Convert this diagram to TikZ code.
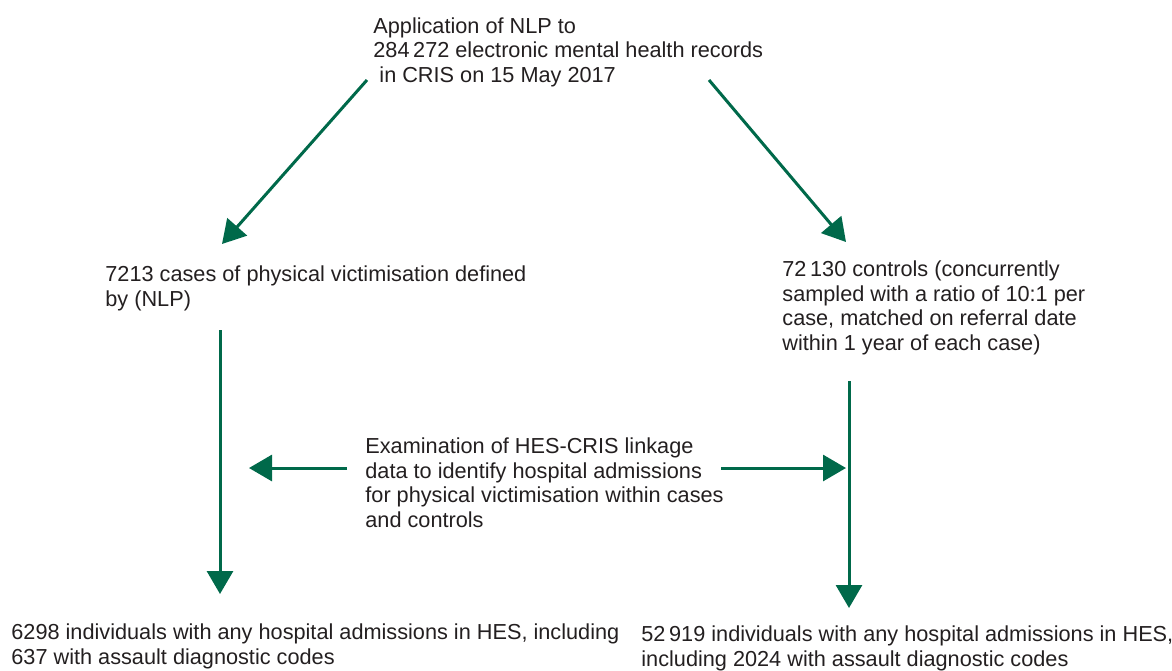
\documentclass[tikz,border=0pt]{standalone}
\usepackage{fontspec}
\setmainfont{Liberation Sans}
\usetikzlibrary{arrows.meta}
\definecolor{txt}{HTML}{231F20}
\definecolor{grn}{HTML}{00694A}
\begin{document}
\begin{tikzpicture}[x=0.5pt,y=-0.5pt,
  lbl/.style={anchor=base west,inner sep=0pt,align=left,text=txt,
    font=\fontsize{10.85}{12.2}\selectfont},
  flow/.style={draw=grn,line width=1.5pt,
    -{Triangle[length=11.5pt,width=13pt]},color=grn}]
\useasboundingbox (0,0) rectangle (1172,670);
% anchor base = baseline of the last line
\node[lbl] (top) at (373,82) {Application of NLP to\\284\,272 electronic mental health records\\\ in CRIS on 15 May 2017};
\node[lbl] (cases) at (105,306) {7213 cases of physical victimisation defined\\by (NLP)};
\node[lbl] (controls) at (782,350) {72\,130 controls (concurrently\\sampled with a ratio of 10:1 per\\case, matched on referral date\\within 1 year of each case)};
\node[lbl] (exam) at (365,527) {Examination of HES-CRIS linkage\\data to identify hospital admissions\\for physical victimisation within cases\\and controls};
\node[lbl] (resL) at (11,664) {6298 individuals with any hospital admissions in HES, including\\637 with assault diagnostic codes};
\node[lbl] (resR) at (641,666) {52\,919 individuals with any hospital admissions in HES,\\including 2024 with assault diagnostic codes};
\coordinate (tl) at (367,80);
\coordinate (tr) at (709,80);
\coordinate (cl) at (222,244);
\coordinate (cr) at (846,242);
\coordinate (vl1) at (220,330);
\coordinate (vl2) at (220,594);
\coordinate (vr1) at (849,381);
\coordinate (vr2) at (849,608);
\coordinate (hl1) at (347,468);
\coordinate (hl2) at (249,468);
\coordinate (hr1) at (721,468);
\coordinate (hr2) at (846,468);
\draw[flow] (tl) -- (cl);
\draw[flow] (tr) -- (cr);
\draw[flow] (vl1) -- (vl2);
\draw[flow] (vr1) -- (vr2);
\draw[flow] (hl1) -- (hl2);
\draw[flow] (hr1) -- (hr2);
\end{tikzpicture}
\end{document}
